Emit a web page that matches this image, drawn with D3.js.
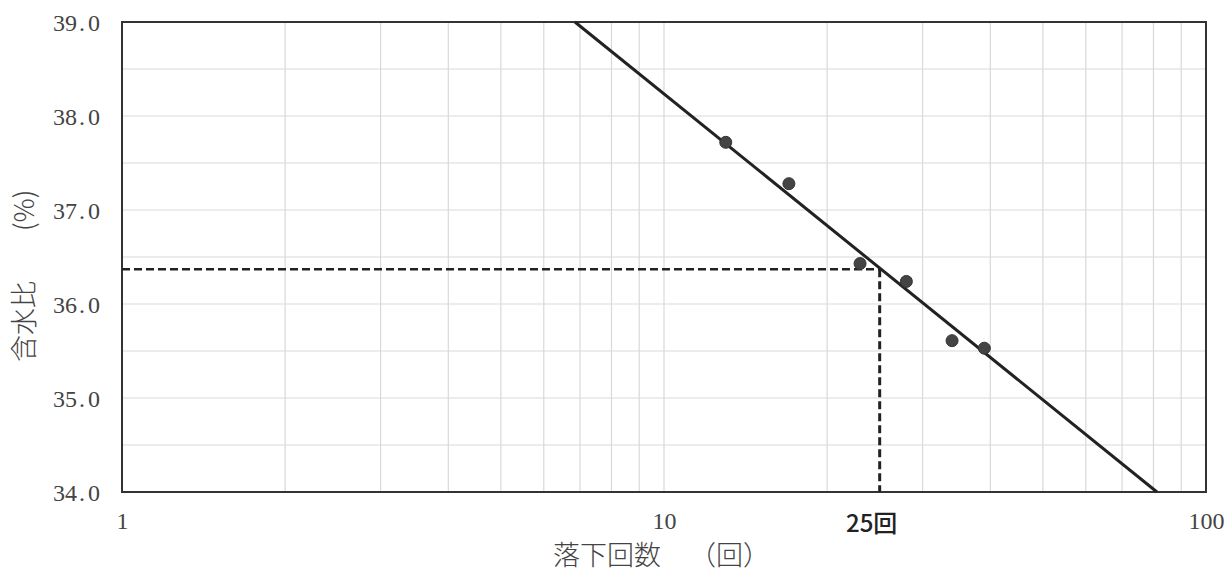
<!DOCTYPE html>
<html>
<head>
<meta charset="utf-8">
<script src="https://cdn.jsdelivr.net/npm/d3@7"></script>
<style>
  html, body { margin: 0; padding: 0; background: #fff; }
  svg { display: block; }
  .serif { font-family: "Liberation Serif", "DejaVu Serif", serif; }
  .cjk { font-family: "Noto Sans CJK JP", sans-serif; }
</style>
</head>
<body>
<svg id="chart" width="1230" height="576"></svg>
<script>
// ---- data ----
const dropCounts   = [13, 17, 23, 28, 34, 39];
const waterContent = [37.72, 37.28, 36.43, 36.24, 35.61, 35.53];
const fitLineN = [6.85, 81.2];
const fitLineW = [39.0, 34.0];
const liquidLimitN = 25;
const liquidLimitW = 36.37;
const yTickValues = [34, 35, 36, 37, 38, 39];
const xTickValues = [1, 10, 100];
const xDomain = [1, 100];
const yDomain = [34, 39];
const liquidLimitLabel = "25回";
const xTitle = ["落下回数", "（回）"];
const yTitle = ["含水比", "(%)"];

// ---- layout ----
const L = 122, R = 1206, T = 22, B = 492;
const svg = d3.select("#chart");
const x = d3.scaleLog().domain(xDomain).range([L, R]);
const y = d3.scaleLinear().domain(yDomain).range([B, T]);

// grid
const gridColor = "#d9d9d9";
const g = svg.append("g");
g.selectAll("line.vx").data(x.ticks()).enter().append("line")
  .attr("x1", d => x(d)).attr("x2", d => x(d))
  .attr("y1", T).attr("y2", B)
  .attr("stroke", gridColor).attr("stroke-width", 1.2);
g.selectAll("line.hy").data(d3.range(yDomain[0], yDomain[1] + 0.001, 0.5)).enter().append("line")
  .attr("x1", L).attr("x2", R)
  .attr("y1", d => y(d)).attr("y2", d => y(d))
  .attr("stroke", gridColor).attr("stroke-width", 1.2);

// y axis labels
const yAxis = d3.axisLeft(y).tickValues(yTickValues).tickSize(0).tickPadding(22)
  .tickFormat(d3.format(".1f"));
const ya = svg.append("g").attr("transform", `translate(${L},0)`).call(yAxis);
ya.attr("font-family", null).attr("font-size", null);
ya.select(".domain").remove();
ya.selectAll("text").each(function(d) {
  const t = d3.select(this);
  const s = d3.format(".1f")(d).split(".");
  t.text(null);
  t.append("tspan").text(s[0]);
  t.append("tspan").attr("dx", 2).text(".");
  t.append("tspan").attr("dx", 3).text(s[1]);
}).attr("class", "serif").style("font-size", "24px")
  .attr("fill", "#444").attr("dy", "0.34em");

// x axis labels
const xAxis = d3.axisBottom(x).tickValues(xTickValues).tickSize(0).tickPadding(0)
  .tickFormat(d3.format("d"));
const xa = svg.append("g").attr("transform", `translate(0,${B})`).call(xAxis);
xa.attr("font-family", null).attr("font-size", null);
xa.select(".domain").remove();
xa.selectAll("text").attr("class", "serif").style("font-size", "24px")
  .attr("fill", "#444").attr("dy", null).attr("y", 37);

// frame
svg.append("rect").attr("x", L).attr("y", T).attr("width", R - L).attr("height", B - T)
  .attr("fill", "none").attr("stroke", "#333").attr("stroke-width", 2);

// dashed guides
svg.append("line")
  .attr("x1", L).attr("x2", x(liquidLimitN))
  .attr("y1", y(liquidLimitW)).attr("y2", y(liquidLimitW))
  .attr("stroke", "#222").attr("stroke-width", 2.6).attr("stroke-dasharray", "8,4");
svg.append("line")
  .attr("x1", x(liquidLimitN)).attr("x2", x(liquidLimitN))
  .attr("y1", y(liquidLimitW)).attr("y2", B)
  .attr("stroke", "#222").attr("stroke-width", 3).attr("stroke-dasharray", "8,4");

// fit line
const lineData = fitLineN.map((n, i) => [n, fitLineW[i]]);
svg.append("path").datum(lineData)
  .attr("d", d3.line().x(d => x(d[0])).y(d => y(d[1])))
  .attr("stroke", "#222").attr("stroke-width", 3).attr("fill", "none");

// points
svg.selectAll("circle.pt").data(dropCounts.map((n, i) => [n, waterContent[i]])).enter()
  .append("circle")
  .attr("cx", d => x(d[0])).attr("cy", d => y(d[1])).attr("r", 6)
  .attr("fill", "#444").attr("stroke", "#333").attr("stroke-width", 1);

// 25回 label
svg.append("text").attr("x", x(liquidLimitN) - 8).attr("y", 532)
  .attr("text-anchor", "middle").attr("class", "cjk")
  .style("font-size", "24px").style("font-weight", 500).attr("fill", "#222")
  .text(liquidLimitLabel);

// x title
const xt = svg.append("text").attr("x", 553).attr("y", 565)
  .attr("class", "cjk").style("font-size", "27px").style("font-weight", 300)
  .attr("fill", "#444");
xt.append("tspan").text(xTitle[0]);
xt.append("tspan").attr("dx", 28).text(xTitle[1]);

// y title
const yt = svg.append("text")
  .attr("transform", "translate(34,362) rotate(-90)")
  .attr("class", "cjk").style("font-size", "27px").style("font-weight", 300)
  .attr("fill", "#444");
yt.append("tspan").text(yTitle[0]);
yt.append("tspan").attr("dx", 50).text(yTitle[1]);
</script>
</body>
</html>
